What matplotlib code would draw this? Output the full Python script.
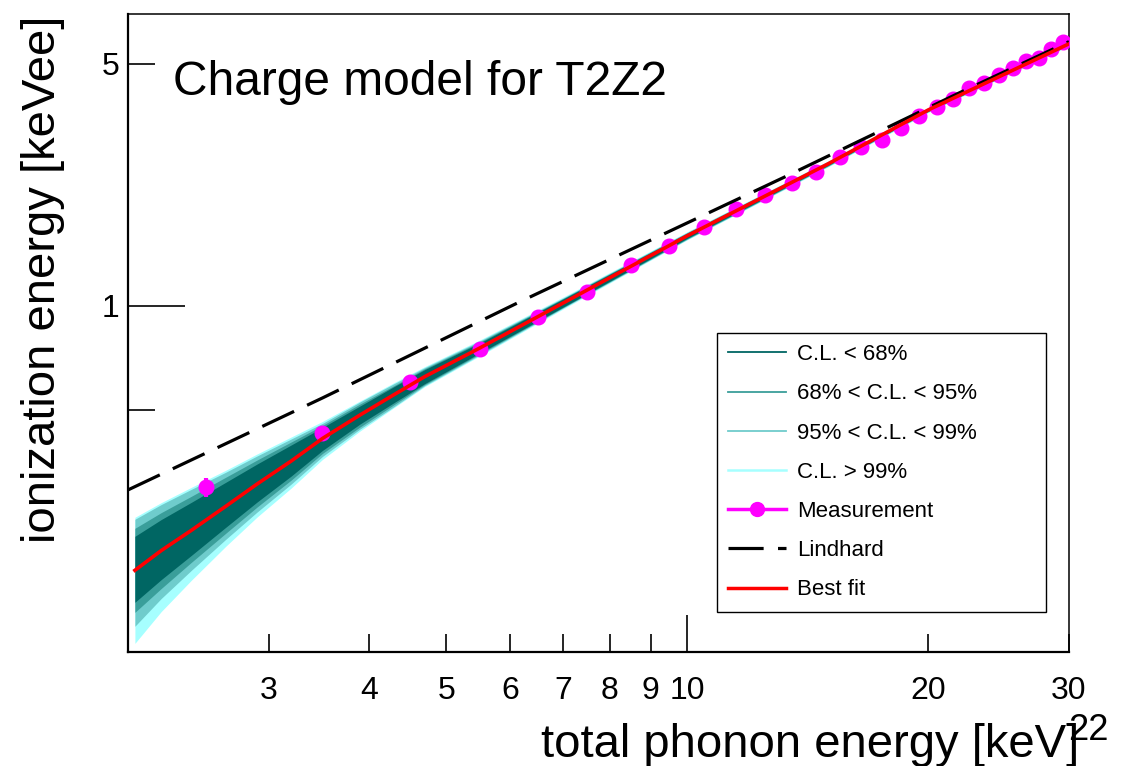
import matplotlib
matplotlib.use('Agg')
import matplotlib.pyplot as plt
from matplotlib.lines import Line2D

plt.rcParams['font.family'] = ['Liberation Sans', 'DejaVu Sans']

# measured charge yield points
meas_energy = [2.5, 3.5, 4.5, 5.5, 6.5, 7.5, 8.5, 9.5, 10.5, 11.5, 12.5, 13.5, 14.5, 15.5,
               16.5, 17.5, 18.5, 19.5, 20.5, 21.5, 22.5, 23.5, 24.5, 25.5, 26.5, 27.5, 28.5, 29.5]
meas_ion = [0.300, 0.430, 0.603, 0.751, 0.931, 1.095, 1.314, 1.491, 1.688, 1.904, 2.094, 2.260,
            2.444, 2.690, 2.886, 3.018, 3.263, 3.534, 3.759, 3.960, 4.272, 4.402, 4.652, 4.864,
            5.106, 5.199, 5.520, 5.768]
meas_err = [0.019] + [0.01] * 27

# Lindhard prediction
lind_energy = [2.0, 3.5, 6.19, 13.2, 21.9, 30.0]
lind_ion = [0.294, 0.542, 1.03, 2.35, 4.13, 5.8]

# best fit and confidence bands
band_energy = [2.04, 2.2, 2.4, 2.65, 2.9, 3.2, 3.5, 3.9, 4.3, 4.7, 5.5, 7.0, 10, 15, 20, 30]
best_fit = [0.1722, 0.1963, 0.2247, 0.2637, 0.3058, 0.3565, 0.4140, 0.4840, 0.5540, 0.6250,
            0.755, 1.020, 1.594, 2.573, 3.68, 5.717]
cl100_hi = [0.2450, 0.2701, 0.2991, 0.3351, 0.3734, 0.4182, 0.4636, 0.5313, 0.6000, 0.6680,
            0.7963, 1.0615, 1.637, 2.625, 3.742, 5.794]
cl99_hi = [0.2418, 0.2666, 0.2951, 0.3307, 0.3685, 0.4127, 0.4575, 0.5278, 0.5960, 0.6636,
           0.7910, 1.0545, 1.632, 2.616, 3.729, 5.778]
cl95_hi = [0.2277, 0.2527, 0.2818, 0.3199, 0.3587, 0.4046, 0.4514, 0.5207, 0.5882, 0.6592,
           0.7857, 1.0510, 1.626, 2.607, 3.717, 5.767]
cl68_hi = [0.2159, 0.2413, 0.2707, 0.3093, 0.3493, 0.3966, 0.4454, 0.5139, 0.5843, 0.6548,
           0.7805, 1.0475, 1.621, 2.599, 3.709, 5.755]
cl68_lo = [0.1392, 0.1618, 0.1902, 0.2293, 0.2713, 0.3226, 0.3822, 0.4558, 0.5252, 0.5966,
           0.7303, 0.9932, 1.568, 2.548, 3.651, 5.679]
cl95_lo = [0.1302, 0.1525, 0.1816, 0.2204, 0.2624, 0.3141, 0.3747, 0.4469, 0.5184, 0.5926,
           0.7255, 0.9899, 1.562, 2.539, 3.644, 5.668]
cl99_lo = [0.1187, 0.1427, 0.1722, 0.2117, 0.2538, 0.3059, 0.3673, 0.4409, 0.5115, 0.5886,
           0.7206, 0.9866, 1.557, 2.531, 3.631, 5.656]
cl100_lo = [0.1059, 0.1308, 0.1612, 0.2021, 0.2455, 0.2979, 0.3600, 0.4351, 0.5081, 0.5848,
            0.7158, 0.9801, 1.552, 2.522, 3.619, 5.641]

c68, c95, c99, c100 = '#006663', '#3a9e9a', '#6fcccc', '#a6ffff'

fig = plt.figure(figsize=(11.4, 7.66), dpi=100)
ax = fig.add_axes([0.1123, 0.1488, 0.8254, 0.8329])

ax.fill_between(band_energy, cl100_lo, cl100_hi, color=c100, lw=0, zorder=1)
ax.fill_between(band_energy, cl99_lo, cl99_hi, color=c99, lw=0, zorder=1)
ax.fill_between(band_energy, cl95_lo, cl95_hi, color=c95, lw=0, zorder=1)
ax.fill_between(band_energy, cl68_lo, cl68_hi, color=c68, lw=0, zorder=1)

ax.errorbar(meas_energy, meas_ion, yerr=meas_err, fmt='o', color='magenta', ms=10.5,
            elinewidth=3, capsize=0, zorder=3)
ax.plot(lind_energy, lind_ion, color='black', lw=2.3, dashes=(11, 4.5), zorder=4)
ax.plot(band_energy, best_fit, color='red', lw=2.6, zorder=5)

ax.set_xscale('log')
ax.set_yscale('log')
ax.set_xlim(2, 30)
ax.set_ylim(0.1, 6.97)

ax.set_xticks([10], labels=['10'])
ax.set_xticks([3, 4, 5, 6, 7, 8, 9, 20, 30], minor=True,
              labels=['3', '4', '5', '6', '7', '8', '9', '20', '30'])
ax.set_yticks([1], labels=['1'])
ax.set_yticks([0.5, 5], minor=True, labels=['', '5'])

ax.tick_params(axis='both', which='both', direction='in', labelsize=23, width=1.2,
               top=False, right=False)
ax.tick_params(axis='x', which='major', length=27, pad=17)
ax.tick_params(axis='x', which='minor', length=13, pad=17)
ax.tick_params(axis='y', which='major', length=41, pad=6)
ax.tick_params(axis='y', which='minor', length=19.5, pad=6)

for s in ['left', 'bottom']:
    ax.spines[s].set_linewidth(1.6)
for s in ['top', 'right']:
    ax.spines[s].set_linewidth(1.1)

ax.text(0.048, 0.873, 'Charge model for T2Z2', transform=ax.transAxes, fontsize=34.5,
        va='baseline', ha='left')

fig.text(0.038, 0.98, 'ionization energy [keVee]', rotation=90, ha='center', va='top',
         fontsize=34)
fig.text(0.947, 1 - 757 / 766, 'total phonon energy [keV]', ha='right', va='baseline',
         fontsize=34)
fig.text(0.937, 1 - 740 / 766, '22', ha='left', va='baseline', fontsize=26)

handles = [
    Line2D([], [], color=c68, lw=1.3),
    Line2D([], [], color=c95, lw=1.3),
    Line2D([], [], color=c99, lw=1.3),
    Line2D([], [], color=c100, lw=1.8),
    Line2D([], [], color='magenta', lw=2.5, marker='o', ms=10),
    Line2D([], [], color='black', lw=2.3, dashes=(11, 4.5)),
    Line2D([], [], color='red', lw=2.5),
]
labels = ['C.L. < 68%', '68% < C.L. < 95%', '95% < C.L. < 99%', 'C.L. > 99%',
          'Measurement', 'Lindhard', 'Best fit']
leg = ax.legend(handles, labels, loc='upper left', mode='expand',
                bbox_to_anchor=(0.626, 0.0643, 0.3495, 0.4357),
                fontsize=16, frameon=True, fancybox=False, edgecolor='black',
                framealpha=1, handlelength=2.6, handletextpad=0.5, labelspacing=0.82,
                borderpad=0.5, borderaxespad=0)
leg.get_frame().set_linewidth(1.0)

fig.savefig('out.png', dpi=100)
